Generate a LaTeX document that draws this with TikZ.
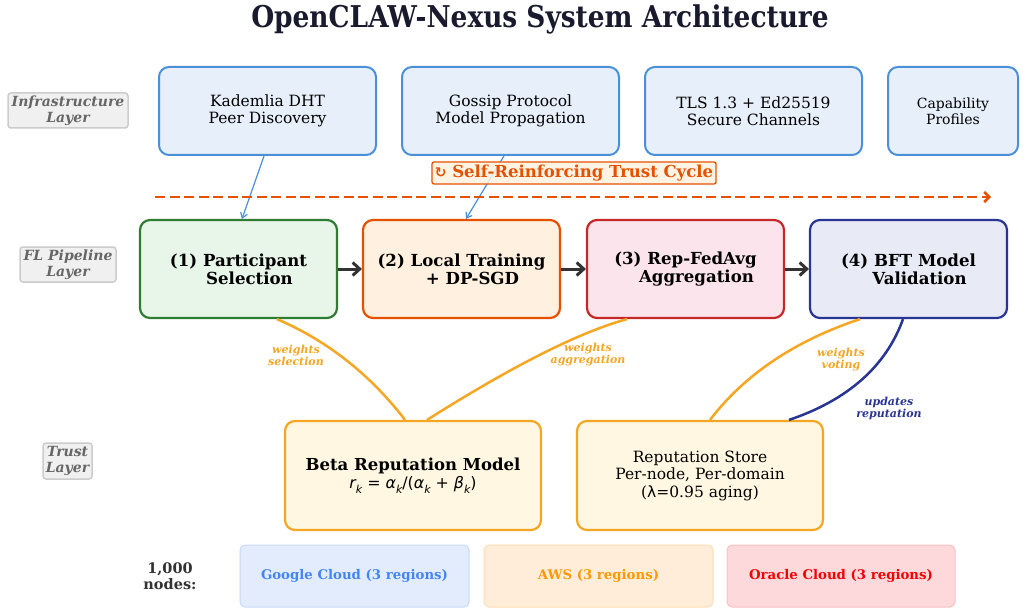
\documentclass[tikz,border=0pt]{standalone}
\usepackage{fontspec}
\setmainfont{DejaVu Serif}
\newfontfamily\dvsans{DejaVu Sans}
\usetikzlibrary{arrows.meta,calc}
\definecolor{titlec}{HTML}{1A1A2E}
\definecolor{infrafill}{HTML}{E7EFFB}
\definecolor{infradraw}{HTML}{4A90D9}
\definecolor{layfill}{HTML}{F0F0F0}
\definecolor{laydraw}{HTML}{CCCCCC}
\definecolor{laytext}{HTML}{666666}
\definecolor{cycc}{HTML}{E65100}
\definecolor{cycfill}{HTML}{FFF3E0}
\definecolor{gdraw}{HTML}{2E7D32}\definecolor{gfill}{HTML}{E8F5E9}
\definecolor{odraw}{HTML}{E65100}\definecolor{ofill}{HTML}{FFF0DF}
\definecolor{rdraw}{HTML}{C62828}\definecolor{rfill}{HTML}{FCE4EC}
\definecolor{ndraw}{HTML}{283593}\definecolor{nfill}{HTML}{E8EAF6}
\definecolor{arrc}{HTML}{333333}
\definecolor{amber}{HTML}{F5A623}
\definecolor{tfill}{HTML}{FFF7E1}
\definecolor{gcfill}{HTML}{E3ECFC}\definecolor{gcdraw}{HTML}{C8DAF9}\definecolor{gctext}{HTML}{4285F4}
\definecolor{awfill}{HTML}{FFEDD9}\definecolor{awdraw}{HTML}{FFDDB5}\definecolor{awtext}{HTML}{FF9900}
\definecolor{orfill}{HTML}{FDD9DB}\definecolor{ordraw}{HTML}{F9C2C5}\definecolor{ortext}{HTML}{F50000}
\newcommand\mysub[1]{\raisebox{-0.3em}{\fontsize{11}{11}\selectfont #1}}
\tikzset{
  infrabox/.style={draw=infradraw, fill=infrafill, line width=2pt, rounded corners=10pt,
    minimum height=88pt, inner sep=0pt, align=center, font=\fontsize{15.5}{17.5}\selectfont},
  laybox/.style={draw=laydraw, fill=layfill, line width=1.5pt, rounded corners=3pt,
    minimum height=35pt, inner sep=0pt, align=center, text=laytext,
    font=\fontsize{14}{16}\selectfont\bfseries\itshape},
  flbox/.style={line width=2.2pt, rounded corners=10pt, minimum width=197pt, minimum height=98pt,
    inner sep=0pt, align=center, font=\fontsize{16.6}{18}\selectfont\bfseries},
  trustbox/.style={draw=amber, fill=tfill, line width=2.2pt, rounded corners=10pt,
    minimum height=109pt, inner sep=0pt, align=center},
  cloudbox/.style={line width=1pt, rounded corners=5pt, minimum height=62pt,
    inner sep=0pt, align=center, font=\fontsize{13.3}{14}\selectfont\bfseries},
  flarrow/.style={draw=arrc, line width=3pt, -{Straight Barb[length=7pt,width=13pt]}},
  bluearr/.style={draw=infradraw, line width=1.2pt, -{Straight Barb[length=5pt,width=7pt]}},
  wcurve/.style={draw=amber, line width=2.5pt},
  wlabel/.style={align=center, inner sep=0pt, font=\fontsize{11}{12}\selectfont\bfseries\itshape},
}
\begin{document}
\begin{tikzpicture}[x=1pt,y=-1pt]
\useasboundingbox (0,0) rectangle (1026,615);
\fill[white] (0,0) rectangle (1026,615);

% title
\node[inner sep=0pt, text=titlec, font=\fontsize{30}{30}\selectfont\bfseries] (title) at (540,19)
  {\scalebox{0.88}[1]{OpenCLAW-Nexus System Architecture}};

% layer labels
\node[laybox, minimum width=120pt] (lay1) at (68,110.5) {Infrastructure\\Layer};
\node[laybox, minimum width=96pt] (lay2) at (68,264.5) {FL Pipeline\\Layer};
\node[laybox, minimum width=49pt, minimum height=36pt] (lay3) at (67.5,461) {Trust\\Layer};

% infrastructure
\node[infrabox, minimum width=217pt] (inf1) at (267.5,111) {Kademlia DHT\\Peer Discovery};
\node[infrabox, minimum width=217pt] (inf2) at (510.5,111) {Gossip Protocol\\Model Propagation};
\node[infrabox, minimum width=217pt] (inf3) at (753.5,111) {TLS 1.3 + Ed25519\\Secure Channels};
\node[infrabox, minimum width=130pt, font=\fontsize{14}{16}\selectfont] (inf4) at (953,111) {Capability\\Profiles};

% FL pipeline
\node[flbox, draw=gdraw, fill=gfill] (fl1) at (238.5,269) {(1) Participant\\\hspace*{22pt}Selection};
\node[flbox, draw=odraw, fill=ofill] (fl2) at (461.5,269) {(2) Local Training\\\hspace*{22pt}+ DP-SGD};
\node[flbox, draw=rdraw, fill=rfill] (fl3) at (685.5,269) {(3) Rep-FedAvg\\\hspace*{22pt}Aggregation};
\node[flbox, draw=ndraw, fill=nfill] (fl4) at (908.5,269) {(4) BFT Model\\\hspace*{22pt}Validation};

\draw[flarrow] (fl1) -- (fl2);
\draw[flarrow] (fl2) -- (fl3);
\draw[flarrow] (fl3) -- (fl4);

% blue links
\draw[bluearr] ([xshift=-3.5pt]inf1.south) -- ([xshift=3.5pt]fl1.north);
\draw[bluearr] ([xshift=-6.5pt]inf2.south) -- ([xshift=4.5pt]fl2.north);

% dashed cycle arrow
\coordinate (cycS) at (155,197);
\coordinate (cycE) at (991,197);
\draw[draw=cycc, line width=2.5pt, dash pattern=on 10pt off 4.5pt,
  -{Straight Barb[length=5pt,width=10pt]}] (cycS) -- (cycE);
\node[draw=cycc, fill=cycfill, fill opacity=0.85, text opacity=1, line width=1.3pt, rounded corners=2pt,
  minimum width=284pt, minimum height=22pt, inner sep=0pt, text=cycc,
  font=\fontsize{16.5}{16.5}\selectfont\bfseries] (cyc) at (574,173)
  {{\dvsans\fontsize{14}{14}\selectfont ↻} Self-Reinforcing Trust Cycle};

% trust layer
\node[trustbox, minimum width=256pt] (beta) at (413,475.5)
  {\fontsize{16.5}{18}\selectfont\bfseries Beta Reputation Model\\[2pt]
   {\fontsize{15.8}{17}\dvsans\itshape r\mysub{k}\upshape\ =\ \itshape α\mysub{k}\upshape/(\itshape α\mysub{k}\upshape\ +\ \itshape β\mysub{k}\upshape)}};
\node[trustbox, minimum width=246pt, font=\fontsize{15.5}{17.5}\selectfont] (store) at (700,475.5)
  {Reputation Store\\Per-node, Per-domain\\({\dvsans λ}=0.95 aging)};

% curves
\draw[wcurve] ([xshift=38.5pt]fl1.south) .. controls (328,341) and (370.5,375) .. ([xshift=-8pt]beta.north);
\draw[wcurve] ([xshift=-58.5pt]fl3.south) .. controls (577.7,332.7) and (511,367) .. ([xshift=14pt]beta.north);
\draw[wcurve] ([xshift=-48.5pt]fl4.south) .. controls (794,341) and (744,375.3) .. ([xshift=10pt]store.north);
\draw[draw=ndraw, line width=2.5pt] ([xshift=-5.5pt]fl4.south) .. controls (886.3,365.7) and (848.3,400) .. ([xshift=89pt]store.north);

\node[wlabel, text=amber] (wl1) at (296,355) {weights\\selection};
\node[wlabel, text=amber] (wl2) at (588,355) {weights\\aggregation};
\node[wlabel, text=amber] (wl3) at (841,360) {weights\\voting};
\node[wlabel, text=ndraw] (wl4) at (889,408) {updates\\reputation};

% clouds
\node[align=center, inner sep=0pt, text=arrc, font=\fontsize{14.5}{16}\selectfont\bfseries] (nodes) at (170,576) {1,000\\nodes:};
\node[cloudbox, draw=gcdraw, fill=gcfill, text=gctext, minimum width=229pt] (gc) at (354.5,576) {Google Cloud (3 regions)};
\node[cloudbox, draw=awdraw, fill=awfill, text=awtext, minimum width=229pt] (aws) at (598.5,576) {AWS (3 regions)};
\node[cloudbox, draw=ordraw, fill=orfill, text=ortext, minimum width=228pt] (oc) at (841,576) {Oracle Cloud (3 regions)};
\end{tikzpicture}
\end{document}
